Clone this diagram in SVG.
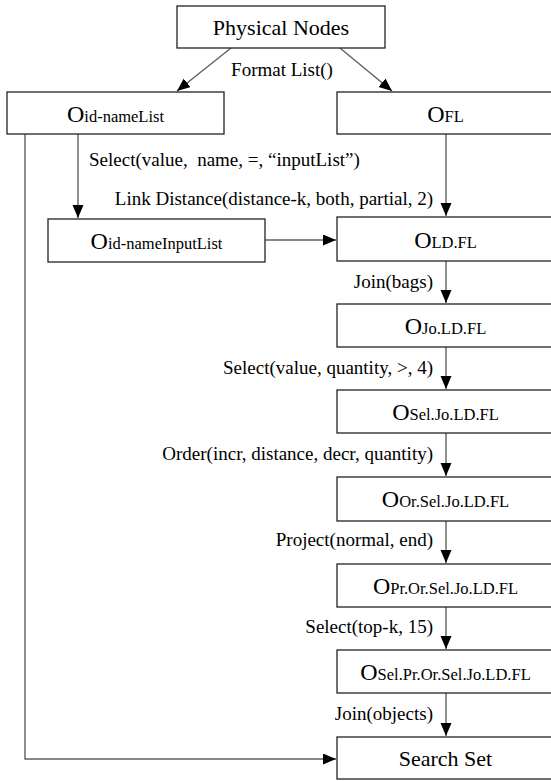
<svg xmlns="http://www.w3.org/2000/svg" width="551" height="781" viewBox="0 0 551 781" font-family="'Liberation Serif', 'DejaVu Serif', 'Times New Roman', serif">
<style>
text{font-family:'Liberation Serif','DejaVu Serif','Times New Roman',serif;fill:#000}
.box{fill:#fff;stroke:#222;stroke-width:1.3}
.title{font-size:22px}
.big{font-size:24px}
.sub{font-size:16.5px}
.lbl{font-size:19px;white-space:pre}
.con{fill:none;stroke:#606060;stroke-width:1.4}
</style>
<defs>
<marker id="ah" markerUnits="userSpaceOnUse" markerWidth="14" markerHeight="12" refX="13" refY="5.5" orient="auto">
<path d="M0,0 L13,5.5 L0,11 z" fill="#000"/>
</marker>
</defs>
<rect width="551" height="781" fill="#fff"/>
<g id="connectors">
<line class="con" x1="231" y1="48" x2="177" y2="91" marker-end="url(#ah)"/>
<line class="con" x1="340" y1="48" x2="392" y2="91" marker-end="url(#ah)"/>
<line class="con" x1="78" y1="134" x2="78" y2="218" marker-end="url(#ah)"/>
<polyline class="con" points="25,134 25,759 336,759" marker-end="url(#ah)"/>
<line class="con" x1="265" y1="240" x2="336" y2="240" marker-end="url(#ah)"/>
<line class="con" x1="446" y1="134" x2="446" y2="216" marker-end="url(#ah)"/>
<line class="con" x1="446" y1="261" x2="446" y2="303" marker-end="url(#ah)"/>
<line class="con" x1="446" y1="347" x2="446" y2="389" marker-end="url(#ah)"/>
<line class="con" x1="446" y1="433" x2="446" y2="476" marker-end="url(#ah)"/>
<line class="con" x1="446" y1="521" x2="446" y2="563" marker-end="url(#ah)"/>
<line class="con" x1="446" y1="607" x2="446" y2="649" marker-end="url(#ah)"/>
<line class="con" x1="446" y1="693" x2="446" y2="736" marker-end="url(#ah)"/>
<text class="lbl" x="282" y="76" text-anchor="middle">Format List()</text>
<text class="lbl" x="89" y="166">Select(value,  name, =, “inputList”)</text>
<text class="lbl" x="433" y="205" text-anchor="end">Link Distance(distance-k, both, partial, 2)</text>
<text class="lbl" x="433" y="288" text-anchor="end">Join(bags)</text>
<text class="lbl" x="433" y="374" text-anchor="end">Select(value, quantity, &gt;, 4)</text>
<text class="lbl" x="433" y="460" text-anchor="end">Order(incr, distance, decr, quantity)</text>
<text class="lbl" x="433" y="546" text-anchor="end">Project(normal, end)</text>
<text class="lbl" x="433" y="633" text-anchor="end">Select(top-k, 15)</text>
<text class="lbl" x="433" y="720" text-anchor="end">Join(objects)</text>
</g>
<g id="physical-nodes">
<rect class="box" x="177" y="6" width="208" height="42"/>
<text class="title" x="281" y="35" text-anchor="middle">Physical Nodes</text>
</g>
<g id="o-id-namelist">
<rect class="box" x="7" y="92" width="217" height="42"/>
<text class="big" x="115.5" y="122" text-anchor="middle">O<tspan class="sub">id-nameList</tspan></text>
</g>
<g id="o-fl">
<rect class="box" x="337" y="92" width="217" height="42"/>
<text class="big" x="445.5" y="122" text-anchor="middle">O<tspan class="sub">FL</tspan></text>
</g>
<g id="o-id-nameinputlist">
<rect class="box" x="48" y="219" width="217" height="43"/>
<text class="big" x="156.5" y="249" text-anchor="middle">O<tspan class="sub">id-nameInputList</tspan></text>
</g>
<g id="o-ld-fl">
<rect class="box" x="337" y="217" width="217" height="44"/>
<text class="big" x="445.5" y="248" text-anchor="middle">O<tspan class="sub">LD.FL</tspan></text>
</g>
<g id="o-jo">
<rect class="box" x="337" y="304" width="217" height="43"/>
<text class="big" x="445.5" y="334" text-anchor="middle">O<tspan class="sub">Jo.LD.FL</tspan></text>
</g>
<g id="o-sel">
<rect class="box" x="337" y="390" width="217" height="43"/>
<text class="big" x="445.5" y="420" text-anchor="middle">O<tspan class="sub">Sel.Jo.LD.FL</tspan></text>
</g>
<g id="o-or">
<rect class="box" x="337" y="477" width="217" height="44"/>
<text class="big" x="445.5" y="507" text-anchor="middle">O<tspan class="sub">Or.Sel.Jo.LD.FL</tspan></text>
</g>
<g id="o-pr">
<rect class="box" x="337" y="564" width="217" height="43"/>
<text class="big" x="445.5" y="594" text-anchor="middle">O<tspan class="sub">Pr.Or.Sel.Jo.LD.FL</tspan></text>
</g>
<g id="o-sel-pr">
<rect class="box" x="337" y="650" width="217" height="43"/>
<text class="big" x="445.5" y="680" text-anchor="middle">O<tspan class="sub">Sel.Pr.Or.Sel.Jo.LD.FL</tspan></text>
</g>
<g id="search-set">
<rect class="box" x="337" y="737" width="217" height="42"/>
<text class="title" x="445.5" y="766" text-anchor="middle">Search Set</text>
</g>
</svg>
